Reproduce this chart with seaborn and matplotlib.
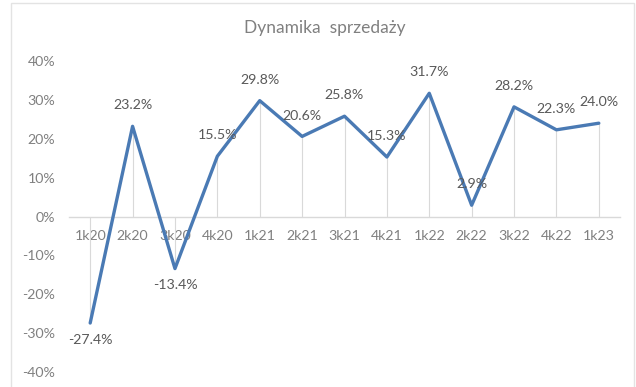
import matplotlib
matplotlib.use("Agg")
import matplotlib.pyplot as plt
from matplotlib.patches import Rectangle
from matplotlib.ticker import FuncFormatter
import seaborn as sns
import pandas as pd

quarters = ["1k20", "2k20", "3k20", "4k20", "1k21", "2k21", "3k21",
            "4k21", "1k22", "2k22", "3k22", "4k22", "1k23"]
growth_pct = [-27.4, 23.2, -13.4, 15.5, 29.8, 20.6, 25.8,
              15.3, 31.7, 2.9, 28.2, 22.3, 24.0]
y_ticks_pct = [-40, -30, -20, -10, 0, 10, 20, 30, 40]
title = "Dynamika  sprzedaży"

sns.set_theme(style="white")
plt.rcParams["font.family"] = ["Lato", "DejaVu Sans"]

df = pd.DataFrame({"kwartal": quarters, "dynamika": [v / 100 for v in growth_pct]})
df["pos"] = range(len(df))

fig = plt.figure(figsize=(6.36, 3.87), dpi=100)
ax = fig.add_axes([69 / 636, 1 - 372 / 387, (620 - 69) / 636, (372 - 61) / 387])

line_color = "#4a7ab4"
grid_color = "#d9d9d9"

# drop lines from each point to the zero axis
ax.vlines(df["pos"], 0, df["dynamika"], color=grid_color, linewidth=0.8, zorder=1)

sns.lineplot(data=df, x="pos", y="dynamika", ax=ax, color=line_color,
             linewidth=2.4, sort=False, zorder=3)

for p, v in zip(df["pos"], df["dynamika"]):
    off = 15 if v >= 0 else -12
    ax.annotate(f"{v * 100:.1f}%", (p, v), xytext=(0, off), textcoords="offset points",
                ha="center", va="center", fontsize=10.2, color="#595959", zorder=4)

ax.set_xlim(-0.5, len(quarters) - 0.5)
ax.set_ylim(-0.4, 0.4)
ax.set_yticks([t / 100 for t in y_ticks_pct])
ax.yaxis.set_major_formatter(FuncFormatter(lambda y, _: f"{y * 100:.0f}%"))
ax.set_xticks(df["pos"])
ax.set_xticklabels(quarters)
ax.set_xlabel("")
ax.set_ylabel("")

for side in ["top", "right", "left"]:
    ax.spines[side].set_visible(False)
ax.spines["bottom"].set_position(("data", 0))
ax.spines["bottom"].set_color(grid_color)
ax.spines["bottom"].set_linewidth(1.0)
ax.spines["bottom"].set_zorder(0)

ax.tick_params(axis="y", length=0, pad=10, labelsize=10.2, labelcolor="#808080")
ax.tick_params(axis="x", length=0, pad=9.5, labelsize=10.2, labelcolor="#808080")
ax.set_facecolor("none")

fig.text(325 / 636, 1 - 28 / 387, title, ha="center", va="center",
         fontsize=12.5, color="#808080")

fig.patches.append(Rectangle((11 / 636, -0.02), (634 - 11) / 636, 1 - 3 / 387 + 0.02,
                             transform=fig.transFigure, fill=False,
                             edgecolor="#e3e3e3", linewidth=1.0))

fig.savefig("out.png", dpi=100)
